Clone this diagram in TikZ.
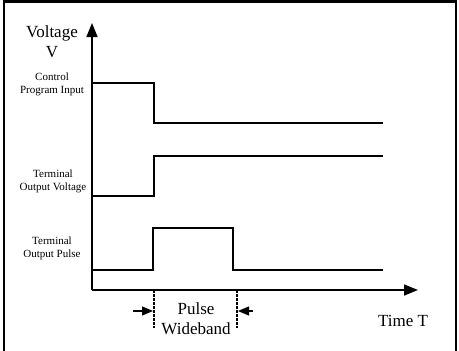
\documentclass[tikz,border=0pt]{standalone}
\usepackage{fontspec}
\setmainfont{Liberation Serif}
\usetikzlibrary{arrows.meta}
\newcommand{\bigtxt}{\fontsize{17}{20}\selectfont}
\newcommand{\smalltxt}{\fontsize{11}{13}\selectfont}

\begin{document}
\begin{tikzpicture}[x=1pt,y=-1pt,
  signal/.style={line width=1.6pt},
  axis/.style={line width=1.6pt,-{Triangle[length=14pt,width=11pt]}},
  marker/.style={line width=1.2pt,-{Triangle[length=11pt,width=9pt]}},
  guide/.style={line width=1.2pt,dash pattern=on 2.5pt off 1.5pt},
  biglbl/.style={align=center,inner sep=0pt,font=\bigtxt},
  smalllbl/.style={align=center,inner sep=0pt,font=\smalltxt}]
  \useasboundingbox (0,0) rectangle (459,351);
  % frame
  \draw[line width=2.6pt] (4,352) -- (4,1.5) -- (456,1.5) -- (456,352);
  % axes
  \coordinate (O) at (92,290);
  \coordinate (ytop) at (92,23);
  \coordinate (xend) at (418,290);
  \draw[axis] (O) -- (ytop);
  \draw[axis] (O) -- (xend);
  \node[biglbl] (vlbl) at (52,42) {Voltage\\V};
  \node[biglbl] (tlbl) at (403,321) {Time T};
  % waveforms
  \draw[signal] (92,83) -- (154,83) -- (154,123) -- (383,123);
  \draw[signal] (92,196) -- (154,196) -- (154,156) -- (383,156);
  \draw[signal] (92,270) -- (153,270) -- (153,228) -- (233,228) -- (233,270) -- (383,270);
  \node[smalllbl] (cpi) at (52,84.5) {Control\\Program Input};
  \node[smalllbl] (tov) at (53,181.5) {Terminal\\Output Voltage};
  \node[smalllbl] (top) at (52,248.5) {Terminal\\Output Pulse};
  % pulse width
  \coordinate (wl) at (154,290);
  \coordinate (wr) at (237,290);
  \draw[guide] (wl) -- ++(0,38);
  \draw[guide] (wr) -- ++(0,38);
  \coordinate (al) at (133,311);
  \coordinate (ar) at (253,311);
  \draw[marker] (al) -- (153,311);
  \draw[marker] (ar) -- (238,311);
  \node[biglbl] (pw) at (196,319) {Pulse\\Wideband};
\end{tikzpicture}
\end{document}
